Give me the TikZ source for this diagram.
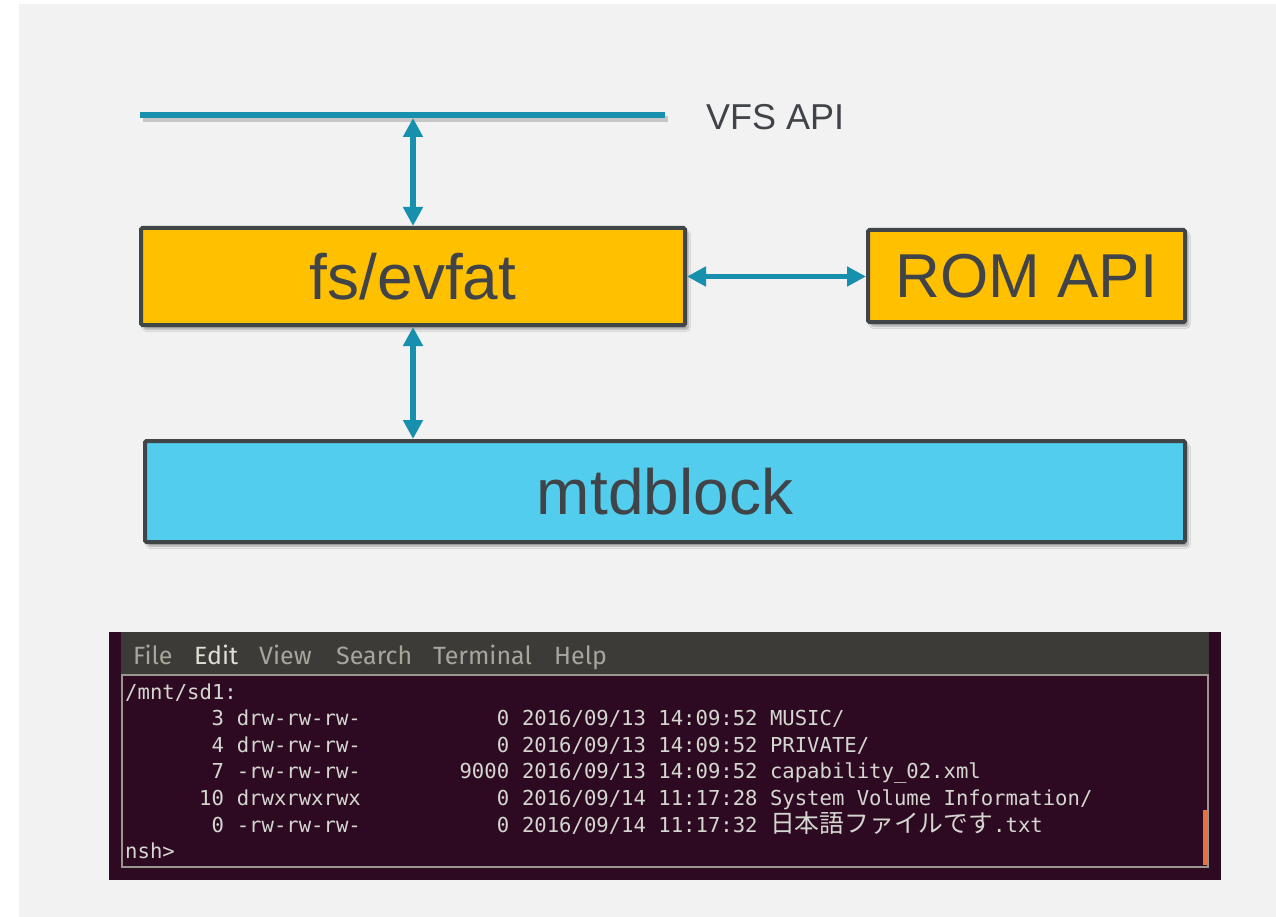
\documentclass[tikz,border=0pt]{standalone}
\usepackage{fontspec}
\setmainfont{Liberation Sans}
\newfontfamily\termfont{DejaVu Sans Mono}
\newfontfamily\menufont{Fira Sans}
\newfontfamily\cjk{Noto Sans CJK JP}
\usetikzlibrary{arrows.meta,shadows.blur}

\definecolor{panel}{HTML}{F2F2F2}
\definecolor{apiline}{HTML}{1790AE}
\definecolor{boxline}{HTML}{404548}
\definecolor{fsfill}{HTML}{FFC000}
\definecolor{mtdfill}{HTML}{52CDED}
\definecolor{labeltext}{HTML}{404448}
\definecolor{termbg}{HTML}{2E0A22}
\definecolor{menubg}{HTML}{3C3B37}
\definecolor{menutext}{HTML}{A8A59D}
\definecolor{menuhot}{HTML}{E2DED5}
\definecolor{termtext}{HTML}{D3D7CF}
\definecolor{termframe}{HTML}{9A958F}
\definecolor{scrollbar}{HTML}{E9713F}

\begin{document}
\begin{tikzpicture}[x=1pt,y=-1pt,
    layer/.style={draw=boxline,line width=4pt,rounded corners=1.5pt,
      text=labeltext,inner sep=0pt,font=\fontsize{64}{70}\selectfont,
      blur shadow={shadow xshift=3pt,shadow yshift=-4pt,shadow blur steps=6,shadow opacity=35}},
    link/.style={draw=apiline,line width=5.5pt,
      {Triangle[width=19pt,length=19pt]}-{Triangle[width=19pt,length=19pt]}},
    menu/.style={anchor=base west,inner sep=0pt,text=menutext,
      font=\menufont\fontsize{25}{28}\selectfont},
    tt/.style={anchor=base west,inner sep=0pt,text=termtext,
      font=\termfont\fontsize{20.6}{24}\selectfont}]
  \useasboundingbox (0,0) rectangle (1276,917);
  \fill[panel] (19,4) rectangle (1276,917);

  % VFS API line
  \coordinate (vfsL) at (140,115);
  \coordinate (vfsR) at (665,115);
  \draw[black,opacity=.18,line width=6pt] ([shift={(3,4)}]vfsL) -- ([shift={(3,4)}]vfsR);
  \draw[apiline,line width=6pt] (vfsL) -- (vfsR);
  \node[anchor=base west,inner sep=0pt,text=labeltext,font=\fontsize{36}{40}\selectfont]
    (vfs) at (706,130) {VFS API};

  % layers
  \node[layer,fill=fsfill,minimum width=544pt,minimum height=97pt] (fs) at (413,276.5) {fs/evfat};
  \node[layer,fill=fsfill,minimum width=317pt,minimum height=92pt,font=\fontsize{62}{68}\selectfont]
    (rom) at (1026.5,276) {ROM API};
  \node[layer,fill=mtdfill,minimum width=1040pt,minimum height=101pt] (mtd) at (665,491.5) {mtdblock};

  \draw[link,shorten >=3pt] (fs.north) -- (fs.north |- vfsL);
  \draw[link] (fs.east) -- (fs.east -| rom.west);
  \draw[link] (fs.south) -- (fs.south |- mtd.north);

  % terminal
  \fill[termbg] (109,632) rectangle (1221,880);
  \fill[menubg] (121,632) rectangle (1209,675);
  \draw[termframe,line width=1.5pt] (122,675) rectangle (1208,867);
  \fill[scrollbar] (1203,810) rectangle (1208,865);
  \foreach \w/\x in {File/133,View/259,Search/336,Terminal/433,Help/554}
    \node[menu] (menu-\w) at (\x,664) {\w};
  \node[menu,text=menuhot] (menu-Edit) at (194,664) {Edit};

  \node[tt] (dir) at (125,699) {/mnt/sd1:};
  \foreach \i/\num/\perm/\size/\dt/\tm/\name in {
      1/3/drw-rw-rw-/0/{2016/09/13}/14:09:52/{MUSIC/},
      2/4/drw-rw-rw-/0/{2016/09/13}/14:09:52/{PRIVATE/},
      3/7/-rw-rw-rw-/9000/{2016/09/13}/14:09:52/{capability\_02.xml},
      4/10/drwxrwxrwx/0/{2016/09/14}/11:17:28/{System Volume Information/},
      5/0/-rw-rw-rw-/0/{2016/09/14}/11:17:32/{{\cjk\fontsize{24.8}{26}\selectfont 日本語ファイルです}.txt}}{
    \node[tt,anchor=base east] (num\i) at (224.2,699+26.6*\i) {\num};
    \node[tt] (perm\i) at (236.6,699+26.6*\i) {\perm};
    \node[tt,anchor=base east] (size\i) at (509.4,699+26.6*\i) {\size};
    \node[tt] (date\i) at (521.8,699+26.6*\i) {\dt};
    \node[tt] (time\i) at (658.2,699+26.6*\i) {\tm};
    \node[tt] (name\i) at (769.8,699+26.6*\i) {\name};
  }
  \node[tt] (prompt) at (125,858.6) {nsh>};
\end{tikzpicture}
\end{document}
